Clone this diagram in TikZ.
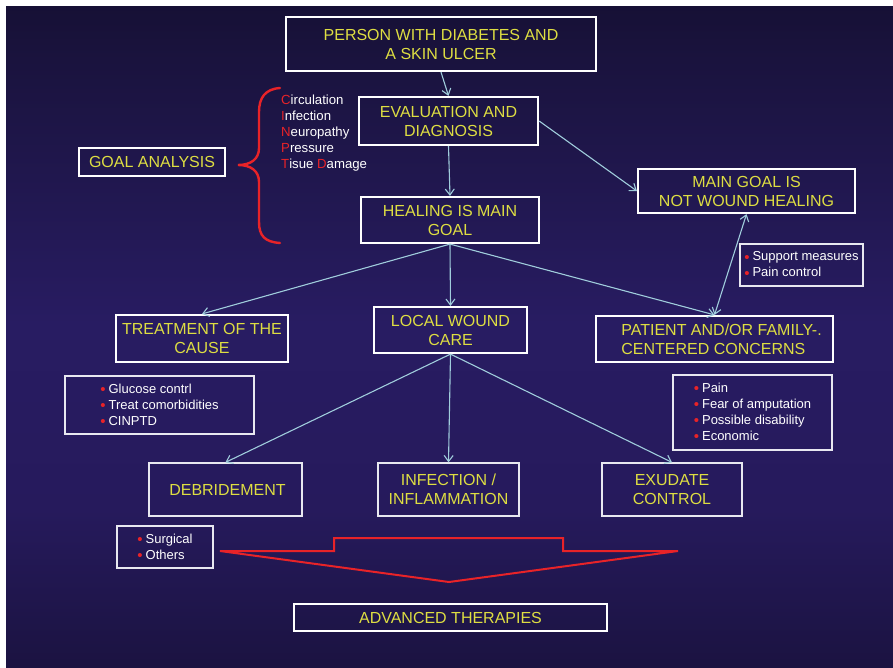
\documentclass[tikz,border=0pt]{standalone}
\usepackage{fontspec}
\setmainfont{Liberation Sans}
\usetikzlibrary{arrows.meta}
\definecolor{ylw}{RGB}{222,222,66}
\definecolor{cyanl}{RGB}{160,205,220}
\definecolor{redb}{RGB}{232,35,40}
\definecolor{bx}{RGB}{232,232,240}
\definecolor{cA}{RGB}{4,3,14}
\definecolor{cB}{RGB}{8,6,22}
\definecolor{cC}{RGB}{24,17,58}
\definecolor{cD}{RGB}{38,26,92}
\definecolor{cE}{RGB}{40,28,98}
\definecolor{cF}{RGB}{26,19,62}
\definecolor{cG}{RGB}{12,9,30}
\definecolor{cH}{RGB}{3,3,12}
\pgfdeclareverticalshading{bgsh}{100bp}{color(0bp)=(cA); color(10bp)=(cB); color(22bp)=(cC); color(37bp)=(cD); color(51bp)=(cE); color(71bp)=(cF); color(86bp)=(cG); color(96bp)=(cH); color(100bp)=(cH)}
\newcommand{\mybul}{\raisebox{-1.2pt}{\fontsize{15}{16}\selectfont\color{redb}\textbullet}\hspace{3pt}}
\tikzset{
  mainbox/.style={draw=white, line width=2.2pt, text=ylw, font=\fontsize{16}{19}\selectfont, align=center, inner sep=0pt},
  subbox/.style={draw=bx, line width=1.3pt, text=ylw, font=\fontsize{16}{19}\selectfont, align=center, inner sep=0pt},
  listbox/.style={draw=bx, line width=1.2pt, text=white, font=\fontsize{13}{16}\selectfont, align=left, inner sep=0pt},
  conn/.style={draw=cyanl, line width=1.1pt, -{Straight Barb[length=6pt,width=9pt]}},
  dconn/.style={draw=cyanl, line width=1.1pt, {Straight Barb[length=6pt,width=9pt]}-{Straight Barb[length=6pt,width=9pt]}}
}
\begin{document}
\begin{tikzpicture}[x=1pt,y=-1pt]
\useasboundingbox (0,0) rectangle (893,668);
\fill[white] (0,0) rectangle (893,668);
\shade[shading=bgsh] (6,7) rectangle (893,668);

\node[mainbox, minimum width=310pt, minimum height=54pt] (person) at (441,44) {PERSON WITH DIABETES AND\\A SKIN ULCER};
\node[mainbox, minimum width=179pt, minimum height=48pt] (eval) at (448.5,121) {EVALUATION AND\\DIAGNOSIS};
\node[mainbox, minimum width=178pt, minimum height=46pt] (heal) at (450,220) {HEALING IS MAIN\\GOAL};
\node[mainbox, minimum width=146pt, minimum height=28pt] (goal) at (152,162) {GOAL ANALYSIS};
\node[mainbox, minimum width=217pt, minimum height=44pt] (main) at (746.5,191) {MAIN GOAL IS\\NOT WOUND HEALING};
\node[listbox, minimum width=123pt, minimum height=42pt] (support) at (801.5,265) {\mybul Support measures\\\mybul Pain control};
\node[mainbox, align=left, minimum width=237pt, minimum height=46pt] (patient) at (714.5,339) {\hspace*{14pt}PATIENT AND/OR FAMILY-.\\\hspace*{14pt}CENTERED CONCERNS};
\node[listbox, minimum width=159pt, minimum height=75pt] (pain) at (752.5,412.5) {\mybul Pain\\\mybul Fear of amputation\\\mybul Possible disability\\\mybul Economic};
\node[mainbox, minimum width=172pt, minimum height=47pt] (treat) at (202,338.5) {TREATMENT OF THE\\CAUSE};
\node[mainbox, minimum width=153pt, minimum height=46pt] (local) at (450.5,330) {LOCAL WOUND\\CARE};
\node[listbox, minimum width=189pt, minimum height=58pt] (gluc) at (159.5,405) {\mybul Glucose contrl\\\mybul Treat comorbidities\\\mybul CINPTD};
\node[subbox, minimum width=153pt, minimum height=53pt] (debr) at (225.5,489.5) {\hspace*{4pt}DEBRIDEMENT};
\node[subbox, minimum width=141pt, minimum height=53pt] (infect) at (448.5,489.5) {INFECTION /\\INFLAMMATION};
\node[subbox, minimum width=140pt, minimum height=53pt] (exud) at (672,489.5) {EXUDATE\\CONTROL};
\node[listbox, minimum width=96pt, minimum height=42pt] (surg) at (165,547) {\mybul Surgical\\\mybul Others};
\node[subbox, draw=white, minimum width=313pt, minimum height=27pt] (adv) at (450.5,617.5) {ADVANCED THERAPIES};

\node[anchor=west, inner sep=0pt, text=white, font=\fontsize{13.2}{16}\selectfont, align=left] (cinp) at (281,133)
  {\textcolor{redb}{C}irculation\\\textcolor{redb}{I}nfection\\\textcolor{redb}{N}europathy\\\textcolor{redb}{P}ressure\\\textcolor{redb}{T}isue \textcolor{redb}{D}amage};

\draw[redb, line width=2.4pt, line cap=round]
  (280,88) .. controls (265,89) and (259,98) .. (259,112) -- (259,148)
  .. controls (259,159) and (251,165) .. (238,165)
  .. controls (251,165) and (259,171) .. (259,182) -- (259,222)
  .. controls (259,236) and (265,242) .. (280,243);

\draw[redb, line width=2pt, line join=miter]
  (220,551) -- (334,551) -- (334,538) -- (563,538) -- (563,551) -- (678,551) -- (449,582) -- cycle;

\draw[conn] (person.south) -- (eval.north);
\draw[conn] (eval.south) -- (heal.north);
\draw[conn] (eval.east) -- (main.west);
\draw[conn] (heal.south) -- (treat.north);
\draw[conn] (heal.south) -- (local.north);
\draw[conn] (heal.south) -- (patient.north);
\draw[dconn] (main.south) -- (patient.north);
\draw[conn] (local.south) -- (debr.north);
\draw[conn] (local.south) -- (infect.north);
\draw[conn] (local.south) -- (exud.north);
\end{tikzpicture}
\end{document}
